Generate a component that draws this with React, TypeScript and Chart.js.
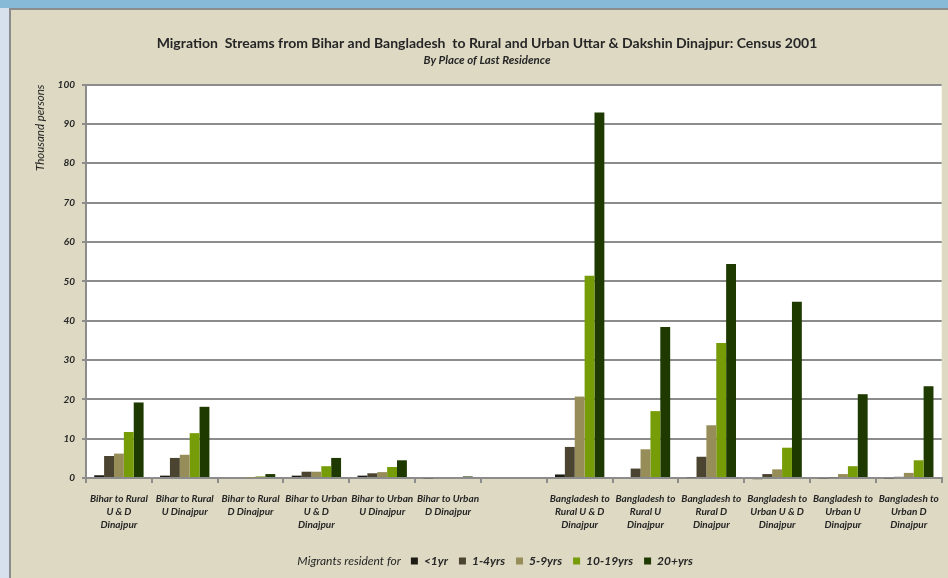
import React, { useEffect, useRef } from "react";
import { Chart, registerables } from "chart.js";

Chart.register(...registerables);

const categories: (string | string[])[] = [
  ["Bihar to Rural", "U & D", "Dinajpur"],
  ["Bihar to Rural", "U Dinajpur"],
  ["Bihar to Rural", "D Dinajpur"],
  ["Bihar to Urban", "U & D", "Dinajpur"],
  ["Bihar to Urban", "U Dinajpur"],
  ["Bihar to Urban", "D Dinajpur"],
  "",
  ["Bangladesh to", "Rural U & D", "Dinajpur"],
  ["Bangladesh to", "Rural U", "Dinajpur"],
  ["Bangladesh to", "Rural D", "Dinajpur"],
  ["Bangladesh to", "Urban U & D", "Dinajpur"],
  ["Bangladesh to", "Urban U", "Dinajpur"],
  ["Bangladesh to", "Urban D", "Dinajpur"],
];

const seriesNames = ["<1yr", "1-4yrs", "5-9yrs", "10-19yrs", "20+yrs"];
const lessThan1 = [0.7, 0.6, 0, 0.6, 0.6, -0.2, 0, 0.9, 0, 0.2, -0.3, -0.2, -0.2];
const yrs1to4 = [5.6, 5.1, 0, 1.6, 1.2, 0, 0, 7.9, 2.4, 5.4, 1.0, 0.2, 0.3];
const yrs5to9 = [6.2, 5.9, 0.1, 1.6, 1.5, 0, 0, 20.7, 7.3, 13.4, 2.2, 1.0, 1.3];
const yrs10to19 = [11.7, 11.4, 0.4, 3.0, 2.8, 0, 0, 51.4, 17.0, 34.3, 7.7, 3.0, 4.5];
const yrs20plus = [19.2, 18.1, 1.0, 5.1, 4.5, 0.4, 0, 92.9, 38.4, 54.4, 44.8, 21.3, 23.3];
const seriesColors = ["#1c1c14", "#4a4430", "#978d58", "#769c08", "#1e3a00"];

const yMin = 0;
const yMax = 100;
const yStep = 10;

const FONT = 'Lato, "Open Sans", sans-serif';

const plotBg = {
  id: "plotBg",
  beforeDraw(chart: any) {
    const { ctx, chartArea } = chart;
    ctx.save();
    ctx.fillStyle = "#ffffff";
    ctx.fillRect(chartArea.left, chartArea.top, chartArea.right - chartArea.left, chartArea.bottom - chartArea.top);
    ctx.restore();
  },
};

const legendLead = {
  id: "legendLead",
  afterDraw(chart: any) {
    const lg = chart.legend;
    if (!lg || !lg.legendHitBoxes || lg.legendHitBoxes.length < 2) return;
    const hb = lg.legendHitBoxes[1];
    const ctx = chart.ctx;
    ctx.save();
    ctx.font = `italic 12px ${FONT}`;
    ctx.fillStyle = "#262626";
    ctx.textAlign = "right";
    ctx.textBaseline = "middle";
    ctx.fillText("Migrants resident for", hb.left - 10, hb.top + hb.height / 2);
    ctx.restore();
  },
};

export default function App() {
  const ref = useRef<HTMLCanvasElement | null>(null);

  useEffect(() => {
    if (!ref.current) return;
    const values = [lessThan1, yrs1to4, yrs5to9, yrs10to19, yrs20plus];
    const chart = new Chart(ref.current, {
      type: "bar",
      data: {
        labels: categories as any,
        datasets: seriesNames.map((name, i) => ({
          label: name,
          data: values[i],
          backgroundColor: seriesColors[i],
          borderWidth: 0,
          categoryPercentage: 0.75,
          barPercentage: 1.0,
          clip: false as any,
        })),
      },
      options: {
        animation: false,
        responsive: false,
        maintainAspectRatio: false,
        layout: { padding: { left: 20, right: 5, top: 0, bottom: 1 } },
        plugins: {
          title: {
            display: true,
            text: "Migration  Streams from Bihar and Bangladesh  to Rural and Urban Uttar & Dakshin Dinajpur: Census 2001",
            color: "#262626",
            font: { family: FONT, size: 14, weight: "bold" },
            padding: { top: 25, bottom: 0 },
          },
          subtitle: {
            display: true,
            text: "By Place of Last Residence",
            color: "#262626",
            font: { family: FONT, size: 11.5, weight: "bold", style: "italic" },
            padding: { top: 2, bottom: 17 },
          },
          legend: {
            position: "bottom",
            labels: {
              boxWidth: 7,
              boxHeight: 7,
              padding: 11,
              color: "#262626",
              font: { family: FONT, size: 12, weight: "bold", style: "italic" },
              generateLabels: (c: any) => {
                const items = (Chart.defaults.plugins.legend.labels as any).generateLabels(c);
                items.forEach((it: any) => {
                  it.lineWidth = 0;
                });
                return [
                  {
                    text: "Migrants resident for",
                    fillStyle: "rgba(0,0,0,0)",
                    strokeStyle: "rgba(0,0,0,0)",
                    lineWidth: 0,
                    fontColor: "rgba(0,0,0,0)",
                    hidden: false,
                    datasetIndex: -1,
                  },
                  ...items,
                ];
              },
            },
          },
          tooltip: { enabled: false },
        },
        scales: {
          x: {
            grid: {
              display: true,
              drawOnChartArea: false,
              drawTicks: true,
              tickLength: 5,
              color: "#8c8c8c",
              lineWidth: 2,
              offset: true,
            },
            border: { display: true, color: "#8c8c8c", width: 2 },
            ticks: {
              autoSkip: false,
              maxRotation: 0,
              minRotation: 0,
              padding: 9,
              color: "#262626",
              font: { family: FONT, size: 10, weight: "bold", style: "italic", lineHeight: 1.3 },
            },
            afterFit: (s: any) => {
              s.height = 66;
            },
          },
          y: {
            min: yMin,
            max: yMax,
            ticks: {
              stepSize: yStep,
              padding: 7,
              color: "#262626",
              font: { family: FONT, size: 10, weight: "bold", style: "italic" },
            },
            grid: {
              color: "#8c8c8c",
              lineWidth: 2,
              tickLength: 4,
            },
            border: { display: true, color: "#8c8c8c", width: 2 },
            title: {
              display: true,
              text: "Thousand persons",
              align: "end",
              color: "#262626",
              font: { family: FONT, size: 11.5, style: "italic" },
              padding: { top: 2, bottom: 4 },
            },
            afterFit: (s: any) => {
              s.width = 55;
            },
          },
        },
      },
      plugins: [plotBg, legendLead],
    });
    return () => chart.destroy();
  }, []);

  return (
    <div style={{ position: "fixed", left: 0, top: 0, width: 948, height: 578, background: "#d6e1ed", overflow: "hidden" }}>
      <div style={{ position: "absolute", left: 0, top: 0, width: 948, height: 8, background: "#87bad6" }} />
      <div style={{ position: "absolute", left: 9, top: 8, width: 939, height: 570, background: "#8c8c8c" }} />
      <div style={{ position: "absolute", left: 11, top: 10, width: 937, height: 568, background: "#ddd9c3" }}>
        <canvas ref={ref} width={937} height={568} style={{ display: "block", width: 937, height: 568 }} />
      </div>
    </div>
  );
}
